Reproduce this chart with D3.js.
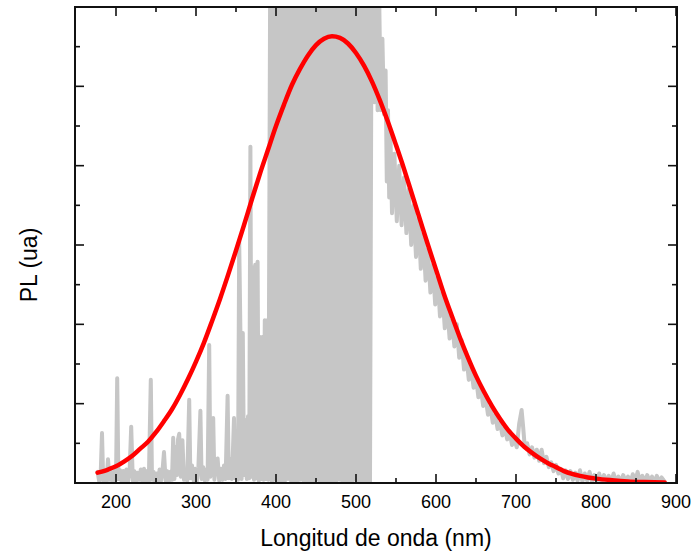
<!DOCTYPE html>
<html>
<head>
<meta charset="utf-8">
<script src="https://cdn.jsdelivr.net/npm/d3@7/dist/d3.min.js"></script>
<style>
  body { margin: 0; background: #fff; }
  svg { display: block; }
</style>
</head>
<body>
<div id="chart"></div>
<script>
// measured PL spectrum [wavelength nm, intensity a.u.] (saturated 392-518 nm)
const spectrum = [
  [177,0.14],[179,0.02],[181,0.16],[182.5,0.63],[184,0.03],[186,0.15],[188,0.02],[190,0.30],[192,0.04],
  [194,0.14],[196,0.01],[198,0.15],[200,0.04],[201.5,1.32],[203,0.05],[205,0.16],[207,0.02],[209,0.15],
  [211,0.03],[213,0.17],[215,0.02],[217,0.14],[219,0.71],[221,0.03],[223,0.15],[225,0.02],[227,0.13],
  [229,0.04],[231,0.17],[233,0.02],[235,0.18],[237,0.03],[239,0.15],[241,0.02],[243.5,1.30],[245,0.04],
  [247,0.14],[249,0.02],[251,0.12],[253,0.03],[254.5,0.17],[256,0.02],[258,0.14],[260,0.39],[262,0.03],
  [264,0.15],[266,0.02],[268,0.14],[270,0.04],[271.5,0.57],[273,0.05],[274.5,0.45],[276,0.10],[277.5,0.55],
  [279,0.62],[281,0.08],[283,0.54],[285,0.04],[287,0.16],[289,0.03],[291.5,1.05],[293,0.06],[295,0.22],
  [297,0.03],[299,0.18],[301,0.02],[303,0.20],[305.5,0.91],[307,0.05],[309,0.20],[311,0.03],[313,0.17],
  [314.5,0.04],[316.5,1.74],[318,0.08],[320,0.35],[321.5,0.82],[323,0.04],[325,0.22],[327,0.31],[329,0.03],
  [331,0.18],[333,0.04],[335,0.22],[337,0.05],[339.5,1.10],[341,0.06],[343,0.30],[345,0.05],[347.5,0.82],
  [349,0.06],[351,0.28],[352.5,0.04],[354,3.05],[355.5,1.90],[357,0.05],[358.5,1.89],[360,0.10],[362,0.79],
  [363.5,0.05],[365,0.84],[366.5,0.06],[368,4.24],[369.5,0.08],[371,2.72],[372.5,0.04],[374,2.75],[375.5,0.06],
  [377,2.79],[378.5,0.03],[380,1.84],[381.5,0.05],[383,1.84],[384.5,0.04],[386,2.05],[387.5,0.05],[389,2.05],
  [390.5,0.04],
  [393,7.2],[395,0.02],[397,7.0],[399,0.04],[401,7.4],[403,0.01],[405,7.1],[407,0.03],[409,7.3],[411,0.02],
  [413,7.0],[415,0.05],[417,7.2],[419,0.02],[421,7.5],[423,0.03],[425,7.1],[427,0.01],[429,7.3],[431,0.04],
  [433,7.0],[435,0.02],[437,7.2],[439,0.03],[441,7.4],[443,0.01],[445,7.1],[447,0.02],[449,7.3],[451,0.04],
  [453,7.0],[455,0.02],[457,7.2],[459,0.03],[461,7.5],[463,0.01],[465,7.1],[467,0.02],[469,7.3],[471,0.03],
  [473,7.0],[475,0.02],[477,7.2],[479,0.04],[481,7.4],[483,0.01],[485,7.1],[487,0.02],[489,7.3],[491,0.03],
  [493,7.0],[495,0.02],[497,7.2],[499,0.04],[501,7.4],[503,0.01],[505,7.1],[507,0.02],[509,7.3],[511,0.03],
  [513,7.0],[515,0.02],[516.5,7.2],[517.5,0.02],
  [519,4.75],[521,6.5],[523,4.8],[525,6.4],[527,4.7],[529,6.1],[531,4.7],[533,5.6],[535,4.65],[537,5.2],
  [538.5,3.8],[540,4.7],[541.5,3.6],[543,4.4],[545,3.4],[548,4.15],[551,3.3],[554,4.0],[557,3.25],
  [560,3.85],[563,3.15],[566,3.7],[569,3.0],[572,3.5],[575,2.85],[578,3.35],[581,2.7],[584,3.15],[587,2.55],
  [590,2.95],[593,2.4],[596,2.75],[599,2.25],[602,2.6],[605,2.1],[608,2.4],[611,1.95],[614,2.25],[617,1.82],
  [620,2.05],[623,1.72],[626,2.0],[629,1.58],[632,1.8],[635,1.43],[638,1.6],[641,1.3],[644,1.45],[647,1.2],
  [650,1.33],[653,1.08],[656,1.2],[659,0.97],[662,1.08],[665,0.86],[668,0.96],[671,0.76],[674,0.86],
  [677,0.68],[680,0.76],[683,0.6],[686,0.7],[689,0.55],[692,0.65],[695,0.48],[698,0.55],[701,0.45],
  [704,0.75],[707,0.92],[709,0.7],[711,0.45],[714,0.5],[717,0.36],[720,0.45],[723,0.32],[726,0.42],
  [729,0.28],[732,0.42],[735,0.25],[738,0.33],[741,0.2],[744,0.26],[747,0.15],[750,0.23],[753,0.12],
  [756,0.18],[759,0.06],[762,0.16],[765,0.05],[768,0.15],[771,0.04],[774,0.13],[777,0.03],[780,0.16],
  [783,0.02],[786,0.12],[789,0.03],[792,0.14],[795,0.02],[798,0.1],[801,0.02],[804,0.12],[807,0.01],
  [810,0.1],[813,0.02],[816,0.09],[819,0.01],[822,0.12],[825,0.02],[828,0.08],[831,0.01],[834,0.1],
  [837,0.02],[840,0.08],[843,0.01],[846,0.11],[849,0.02],[852,0.14],[855,0.02],[858,0.09],[861,0.01],
  [864,0.1],[867,0.02],[870,0.08],[873,0.01],[876,0.09],[879,0.02],[882,0.07],[885,0.03]
];

// fitted curve [wavelength nm, intensity]
const fit = [
  [177,0.13],[190,0.17],[200,0.21],[210,0.27],[220,0.34],[230,0.43],[240,0.52],[250,0.64],[260,0.78],
  [270,0.93],[280,1.11],[290,1.31],[300,1.53],[310,1.77],[320,2.04],[330,2.32],[340,2.62],[350,2.93],
  [360,3.25],[370,3.58],[380,3.90],[390,4.20],[400,4.50],[410,4.77],[420,5.02],[430,5.22],[440,5.39],
  [450,5.52],[460,5.60],[470,5.63],[480,5.61],[490,5.54],[500,5.42],[510,5.26],[520,5.06],[530,4.82],
  [540,4.55],[550,4.26],[560,3.96],[570,3.64],[580,3.32],[590,3.00],[600,2.69],[610,2.38],[620,2.10],
  [630,1.83],[640,1.58],[650,1.35],[660,1.15],[670,0.97],[680,0.81],[690,0.67],[700,0.56],[710,0.46],
  [720,0.38],[730,0.31],[740,0.25],[750,0.20],[760,0.15],[770,0.115],[780,0.09],[790,0.07],[800,0.055],
  [820,0.035],[840,0.02],[860,0.012],[886,0.006]
];

const xTicks = [200, 300, 400, 500, 600, 700, 800, 900];
const xMinor = [250, 350, 450, 550, 650, 750, 850];
const yTicks = [1, 2, 3, 4, 5];
const yMinor = [0.5, 1.5, 2.5, 3.5, 4.5, 5.5];

const width = 694, height = 554;
const plotL = 75, plotR = 677, plotT = 7, plotB = 483;

const svg = d3.select("#chart").append("svg")
  .attr("width", width)
  .attr("height", height)
  .style("font-family", "'Liberation Sans', Arial, sans-serif");

const x = d3.scaleLinear().domain([148.75, 901.25]).range([plotL, plotR]);
const y = d3.scaleLinear().domain([0, 6]).range([plotB, plotT]);

svg.append("defs").append("clipPath").attr("id", "plot-clip")
  .append("rect")
  .attr("x", plotL).attr("y", plotT)
  .attr("width", plotR - plotL).attr("height", plotB - plotT);

const line = d3.line().x(d => x(d[0])).y(d => y(d[1]));

const plot = svg.append("g").attr("clip-path", "url(#plot-clip)");

plot.append("path")
  .datum(spectrum)
  .attr("d", line)
  .attr("fill", "none")
  .attr("stroke", "#c6c6c6")
  .attr("stroke-width", 4)
  .attr("stroke-linejoin", "round")
  .attr("stroke-linecap", "round");

plot.append("path")
  .datum(fit)
  .attr("d", d3.line().curve(d3.curveMonotoneX).x(d => x(d[0])).y(d => y(d[1])))
  .attr("fill", "none")
  .attr("stroke", "#ff0000")
  .attr("stroke-width", 4.5)
  .attr("stroke-linecap", "round");

// frame + inward ticks
const axisColor = "#111";
const major = 9, minor = 5;

svg.append("rect")
  .attr("x", plotL).attr("y", plotT)
  .attr("width", plotR - plotL).attr("height", plotB - plotT)
  .attr("fill", "none")
  .attr("stroke", axisColor)
  .attr("stroke-width", 2);

const ticks = svg.append("g").attr("stroke", axisColor).attr("stroke-width", 1.6);

function xTick(v, len) {
  ticks.append("line").attr("x1", x(v)).attr("x2", x(v)).attr("y1", plotB).attr("y2", plotB - len);
  ticks.append("line").attr("x1", x(v)).attr("x2", x(v)).attr("y1", plotT).attr("y2", plotT + len);
}
function yTick(v, len) {
  ticks.append("line").attr("y1", y(v)).attr("y2", y(v)).attr("x1", plotL).attr("x2", plotL + len);
  ticks.append("line").attr("y1", y(v)).attr("y2", y(v)).attr("x1", plotR).attr("x2", plotR - len);
}
xTicks.forEach(v => xTick(v, major));
xMinor.forEach(v => xTick(v, minor));
yTicks.forEach(v => yTick(v, major));
yMinor.forEach(v => yTick(v, minor));

svg.append("g").selectAll("text")
  .data(xTicks)
  .enter()
  .append("text")
  .attr("x", d => x(d))
  .attr("y", 508)
  .attr("text-anchor", "middle")
  .attr("fill", "#000")
  .style("font-size", "18px")
  .text(d => d);

svg.append("text")
  .attr("x", (plotL + plotR) / 2)
  .attr("y", 546)
  .attr("text-anchor", "middle")
  .attr("fill", "#000")
  .style("font-size", "23px")
  .text("Longitud de onda (nm)");

svg.append("text")
  .attr("transform", "translate(37,265) rotate(-90)")
  .attr("text-anchor", "middle")
  .attr("fill", "#000")
  .style("font-size", "23px")
  .text("PL (ua)");
</script>
</body>
</html>
